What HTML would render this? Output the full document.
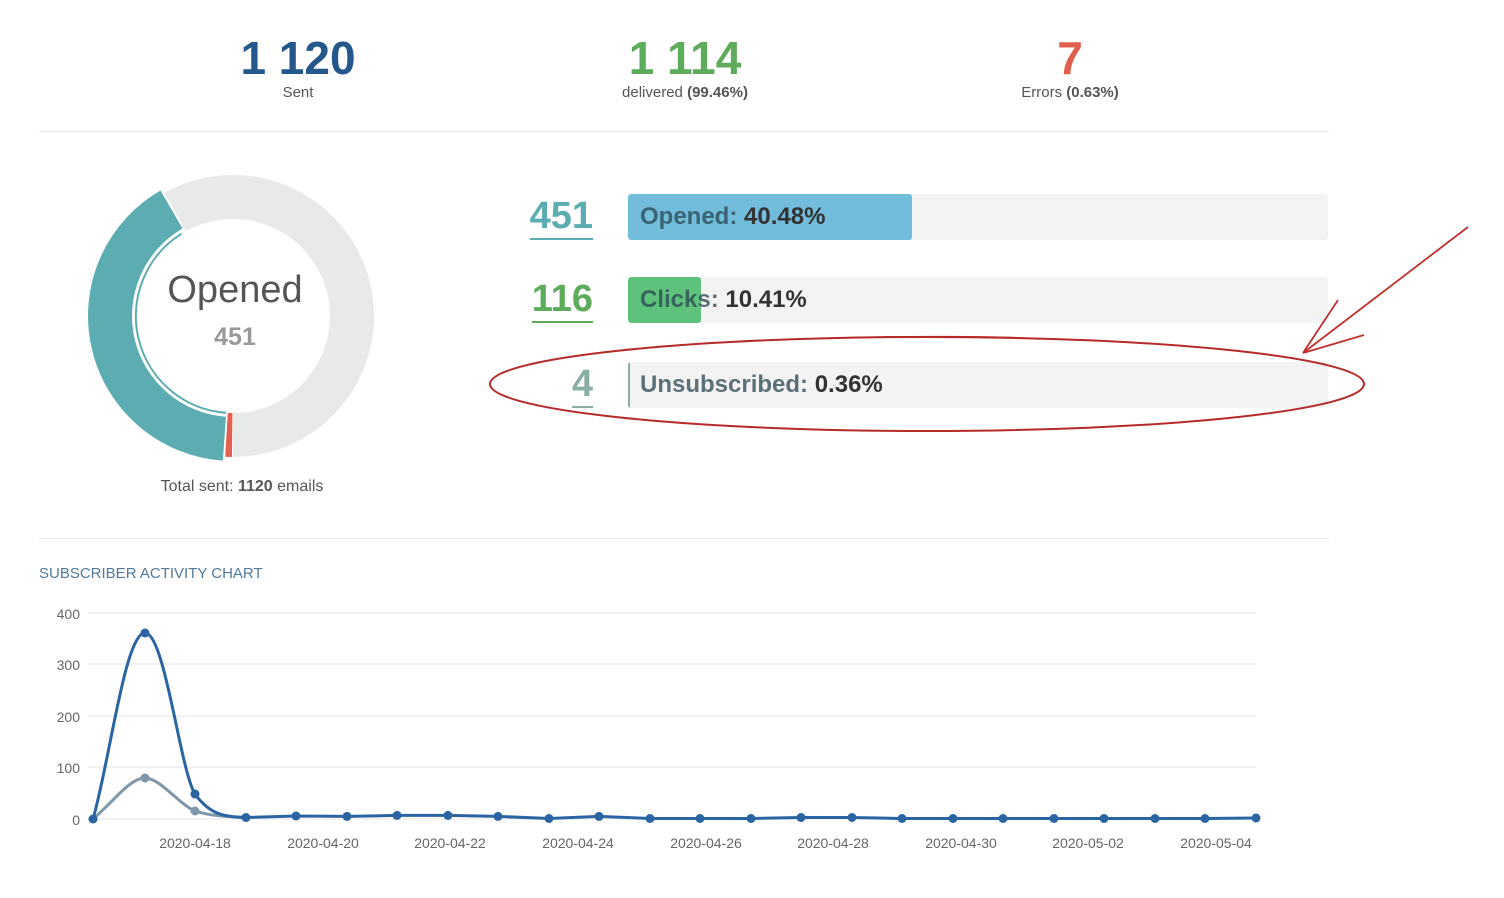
<!DOCTYPE html>
<html><head><meta charset="utf-8"><style>
body{margin:0;width:1504px;height:898px;background:#fff;font-family:"Liberation Sans",sans-serif;position:relative;overflow:hidden}
.a{position:absolute}
.big{font-weight:bold;font-size:46px;text-align:center;width:300px;line-height:46px}
.sub{font-size:15px;color:#555;text-align:center;width:300px}
.hr{position:absolute;left:39px;width:1290px;height:1px;background:#e6e6e6}
.num{position:absolute;width:120px;text-align:right;font-size:38px;font-weight:bold;line-height:44px}
.num span{border-bottom:2px solid;padding-bottom:1px}
.bar{position:absolute;left:628px;width:700px;height:46px;background:#f3f3f3;border-radius:3px;overflow:hidden}
.bar .f{position:absolute;left:0;top:0;height:46px;border-radius:3px}
.bar .t{position:absolute;left:12px;top:0;line-height:46px;font-size:24px;font-weight:bold;color:#333}
.bar .t b{color:#333}
.bar .t i{font-style:normal;color:rgba(40,70,80,0.75)}
</style></head><body>
<div class="a big" style="left:148px;top:35px;color:#24588c">1 120</div>
<div class="a sub" style="left:148px;top:84px">Sent</div>
<div class="a big" style="left:535px;top:35px;color:#5cac5c">1 114</div>
<div class="a sub" style="left:535px;top:84px">delivered <b>(99.46%)</b></div>
<div class="a big" style="left:920px;top:35px;color:#e0604e">7</div>
<div class="a sub" style="left:920px;top:84px">Errors <b>(0.63%)</b></div>
<div class="hr" style="top:131px"></div>
<div class="hr" style="top:538px"></div>

<svg class="a" style="left:0;top:0" width="1504" height="898">
<path d="M175.3,211.9 A119,119 0 1 1 233,435" fill="none" stroke="#e8e9e9" stroke-width="44"/>
<path d="M224.4,438.7 A123,123 0 0 1 171.5,209.5" fill="none" stroke="#5cadb2" stroke-width="44"/>
<path d="M232.2,435 A119,119 0 0 1 226.5,434.8" fill="none" stroke="#e2604f" stroke-width="44"/>
<path d="M226.2,412.8 A97,97 0 0 1 181.6,233.7" fill="none" stroke="#5cadb2" stroke-width="2"/>
<text x="235" y="302" font-size="38" fill="#555" text-anchor="middle" font-family="Liberation Sans">Opened</text>
<text x="235" y="345" font-size="25" font-weight="bold" fill="#999" text-anchor="middle" font-family="Liberation Sans">451</text>
</svg>
<div class="a" style="left:92px;top:478px;width:300px;text-align:center;font-size:16px;color:#555">Total sent: <b>1120</b> emails</div>

<div class="num" style="left:473px;top:194px;color:#5cadb2"><span>451</span></div>
<div class="num" style="left:473px;top:277px;color:#5cac5c"><span>116</span></div>
<div class="num" style="left:473px;top:362px;color:#8aaea5"><span>4</span></div>
<div class="bar" style="top:194px"><div class="f" style="width:284px;background:#72bcdc"></div><div class="t"><i>Opened:</i> <b>40.48%</b></div></div>
<div class="bar" style="top:277px"><div class="f" style="width:73px;background:#5ec27d"></div><div class="t"><i>Clicks:</i> <b>10.41%</b></div></div>
<div class="bar" style="top:362px"><div class="f" style="width:2px;background:#8aaea5"></div><div class="t"><i>Unsubscribed:</i> <b>0.36%</b></div></div>

<div class="a" style="left:39px;top:565px;font-size:15px;color:#4f7a9c">SUBSCRIBER ACTIVITY CHART</div>
<svg class="a" style="left:0;top:0" width="1504" height="898" font-family="Liberation Sans">
<g stroke="#e6e6e6" stroke-width="1">
<line x1="88" y1="613" x2="1256" y2="613"/><line x1="88" y1="664" x2="1256" y2="664"/><line x1="88" y1="716" x2="1256" y2="716"/><line x1="88" y1="767" x2="1256" y2="767"/><line x1="88" y1="819" x2="1256" y2="819"/>
</g>
<g font-size="14" fill="#666" text-anchor="end">
<text x="80" y="619">400</text><text x="80" y="670">300</text><text x="80" y="722">200</text><text x="80" y="773">100</text><text x="80" y="825">0</text>
</g>
<g font-size="14" fill="#666" text-anchor="middle">
<text x="195" y="848">2020-04-18</text><text x="323" y="848">2020-04-20</text><text x="450" y="848">2020-04-22</text><text x="578" y="848">2020-04-24</text><text x="706" y="848">2020-04-26</text><text x="833" y="848">2020-04-28</text><text x="961" y="848">2020-04-30</text><text x="1088" y="848">2020-05-02</text><text x="1216" y="848">2020-05-04</text>
</g>
<path d="M93,819 C115,800 130,778 145,778 C160,778 180,805 195,811 C210,816 230,817 246,817.5" fill="none" stroke="#7e97aa" stroke-width="3"/>
<circle cx="145" cy="778" r="4.5" fill="#7e97aa"/><circle cx="195" cy="811" r="4.5" fill="#7e97aa"/>
<path d="M93,819 C110,760 125,633 145,633 C165,633 180,770 195,794 C210,815 225,817 246,817.5 L296,816 347,816.4 397,815.4 448,815.4 498,816.4 549,818.5 599,816.4 650,818.5 700,818.5 751,818.5 801,817.5 852,817.5 902,818.5 953,818.5 1003,818.5 1054,818.5 1104,818.5 1155,818.5 1205,818.5 1256,818" fill="none" stroke="#2b64a3" stroke-width="3"/>
<g fill="#2b64a3">
<circle cx="93" cy="819" r="4.5"/><circle cx="145" cy="633" r="4.5"/><circle cx="195" cy="794" r="4.5"/><circle cx="246" cy="817.5" r="4.5"/><circle cx="296" cy="816" r="4.5"/><circle cx="347" cy="816.4" r="4.5"/><circle cx="397" cy="815.4" r="4.5"/><circle cx="448" cy="815.4" r="4.5"/><circle cx="498" cy="816.4" r="4.5"/><circle cx="549" cy="818.5" r="4.5"/><circle cx="599" cy="816.4" r="4.5"/><circle cx="650" cy="818.5" r="4.5"/><circle cx="700" cy="818.5" r="4.5"/><circle cx="751" cy="818.5" r="4.5"/><circle cx="801" cy="817.5" r="4.5"/><circle cx="852" cy="817.5" r="4.5"/><circle cx="902" cy="818.5" r="4.5"/><circle cx="953" cy="818.5" r="4.5"/><circle cx="1003" cy="818.5" r="4.5"/><circle cx="1054" cy="818.5" r="4.5"/><circle cx="1104" cy="818.5" r="4.5"/><circle cx="1155" cy="818.5" r="4.5"/><circle cx="1205" cy="818.5" r="4.5"/><circle cx="1256" cy="818" r="4.5"/>
</g>
<ellipse cx="927" cy="384" rx="437" ry="47" fill="none" stroke="#b72a2a" stroke-width="2"/>
<path d="M840,338 C900,336 1000,336 1040,339" fill="none" stroke="#b72a2a" stroke-width="1.5"/>
<path d="M1468,227 L1303,353 M1303,353 L1338,300 M1303,353 L1364,335" fill="none" stroke="#c0302e" stroke-width="1.8"/>
</svg>
</body></html>
